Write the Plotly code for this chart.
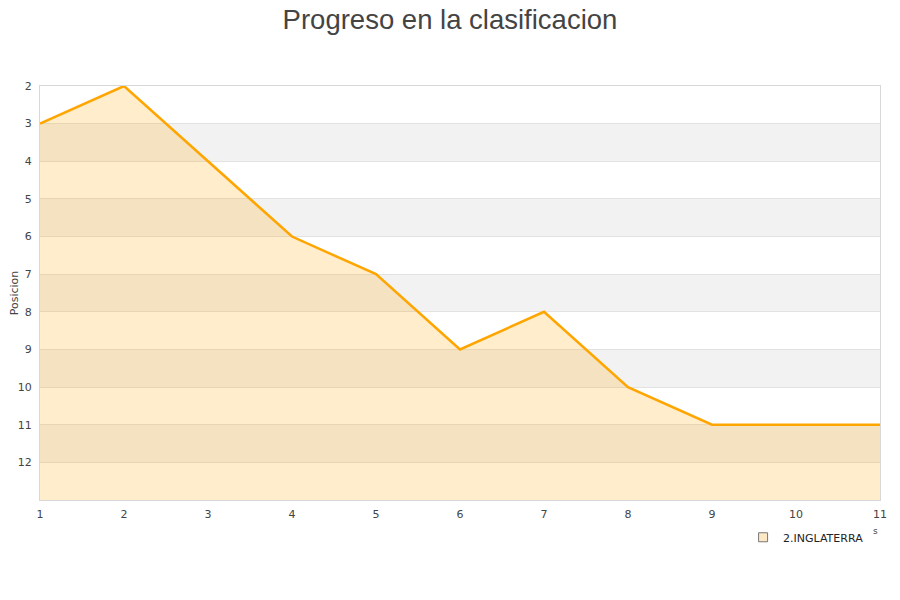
import plotly.graph_objects as go

jornadas = [1, 2, 3, 4, 5, 6, 7, 8, 9, 10, 11]
posiciones = [3, 2, 4, 6, 7, 9, 8, 10, 11, 11, 11]
equipo = "2.INGLATERRA"
y_min, y_max = 2, 13
gray_bands = [(3, 4), (5, 6), (7, 8), (9, 10), (11, 12)]

fig = go.Figure()
fig.add_trace(go.Scatter(x=jornadas, y=[y_max] * len(jornadas), mode="lines",
                         line=dict(width=0), showlegend=False, hoverinfo="skip"))
fig.add_trace(go.Scatter(x=jornadas, y=posiciones, mode="lines", fill="tonexty",
                         fillcolor="rgba(255,165,0,0.2)",
                         line=dict(color="#ffa500", width=2.5), showlegend=False))
fig.add_trace(go.Scatter(x=[None], y=[None], mode="markers", name=equipo,
                         marker=dict(symbol="square", size=9, color="#fde9c6",
                                     line=dict(color="#777", width=1))))

shapes = []
for a, b in gray_bands:
    shapes.append(dict(type="rect", xref="paper", yref="y", x0=0, x1=1, y0=a, y1=b,
                       fillcolor="#f2f2f2", line=dict(width=0), layer="below"))

fig.update_layout(
    width=900, height=600,
    margin=dict(l=32, r=28, t=78, b=108, autoexpand=False),
    paper_bgcolor="white", plot_bgcolor="white",
    title=dict(text="Progreso en la clasificacion", x=(450 - 8 - 32) / 840, xanchor="center",
               xref="paper", yref="container", y=1 - 2 / 600, yanchor="top",
               pad=dict(t=0, b=0, l=0, r=0),
               automargin=False,
               font=dict(family="Liberation Sans, Arial", size=27.5, color="#444")),
    shapes=shapes,
    xaxis=dict(range=[1, 11], tickmode="array", tickvals=jornadas, automargin=False,
               showgrid=False, zeroline=False, showline=True, linecolor="#d8d8d8",
               mirror=True, ticks="", ticklabelstandoff=4,
               tickfont=dict(family="DejaVu Sans", size=11, color="#444")),
    yaxis=dict(range=[y_max, y_min], tickmode="array", tickvals=list(range(2, 13)),
               automargin=False,
               showgrid=True, gridcolor="#e2e2e2", zeroline=False, showline=True,
               linecolor="#d8d8d8", mirror=True, ticks="", ticklabelstandoff=5,
               title=dict(text="Posicion", font=dict(family="DejaVu Sans", size=11, color="#444"),
                          standoff=2),
               tickfont=dict(family="DejaVu Sans", size=11, color="#444")),
    legend=dict(x=0.987, xanchor="right", y=-0.09, yanchor="middle", orientation="h",
                itemwidth=30,
                font=dict(family="DejaVu Sans", size=11, color="#222"),
                bgcolor="rgba(0,0,0,0)"),
    annotations=[dict(text="s", xref="paper", yref="paper",
                      x=(875 - 40) / 840, y=-(531 - 500) / 414,
                      xanchor="center", yanchor="middle",
                      showarrow=False,
                      font=dict(family="DejaVu Sans", size=9, color="#444"))],
)
fig.write_html("out.html")
